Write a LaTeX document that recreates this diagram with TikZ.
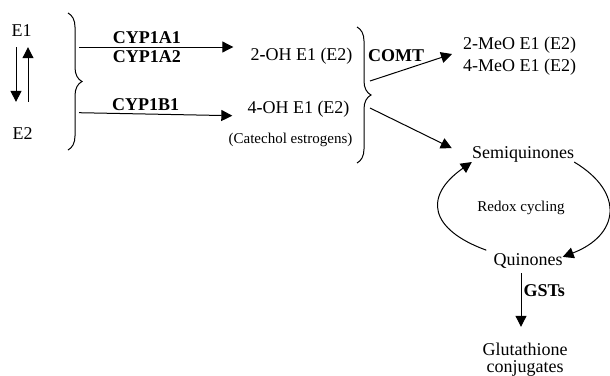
\documentclass[tikz,border=0pt]{standalone}
\usepackage{fontspec}
\setmainfont{Liberation Serif}
\usetikzlibrary{calc, arrows.meta, decorations.pathreplacing}

\tikzset{
	txt/.style = {inner sep = 0, anchor = base, font = \fontsize{18}{22}\selectfont},
	smalltxt/.style = {inner sep = 0, anchor = base, font = \fontsize{15}{18}\selectfont},
	enz/.style = {inner sep = 0, font = \fontsize{18}{22}\selectfont\bfseries},
	arr/.style = {line width = 1pt, -{Triangle[length = 11pt, width = 11pt]}},
	curly/.style = {line width = 1pt, decorate, decoration = {brace, amplitude = 14pt}}
}

\begin{document}
\begin{tikzpicture}[x = 1pt, y = 1pt]
	\useasboundingbox (0,0) rectangle (610,-375);

	% estrogens and products
	\node [txt] (e1) at (21.5,-36) {E1};
	\node [txt] (e2) at (22.5,-139) {E2};
	\node [txt] (oh2) at (301.5,-60) {2\textbf{-}OH E1 (E2)};
	\node [txt] (oh4) at (298.5,-113) {4\textbf{-}OH E1 (E2)};
	\node [smalltxt] (cat) at (290.5,-143) {(Catechol estrogens)};
	\node [txt, anchor = west, align = left] (meo) at (463,-56) {2-MeO E1 (E2)\\4-MeO E1 (E2)};
	\node [txt] (semi) at (523,-158) {Semiquinones};
	\node [smalltxt] (redox) at (521,-211) {Redox cycling};
	\node [txt] (quin) at (528,-265) {Quinones};
	\node [txt] (glut) at (525,-355) {Glutathione};
	\node [txt] (conj) at (525,-372) {conjugates};
	\node [enz, anchor = base west] (comt) at (368,-61) {COMT};

	% braces
	\draw [curly] (68,-13) -- (68,-150);
	\draw [curly] (357,-27) -- (357,-163);

	\coordinate (s1) at (79,-47);
	\coordinate (s2) at (79,-112.7);
	\coordinate (t1) at (370,-81);
	\coordinate (t2) at (370,-108);

	\begin{scope}[arr]
		\draw [shorten <= 11pt, shorten >= 25pt] ($(e1.south) + (-5.5,0)$) -- ($(e2.north) + (-6.5,0)$);
		\draw [shorten <= 25pt, shorten >= 11pt] ($(e2.north) + (5.5,0)$) -- ($(e1.south) + (6.5,0)$);

		\draw (s1) -- ($(s1 -| oh2.west) + (-17,0)$)
			node [enz, pos = 0.44, above = 3pt] {CYP1A1}
			node [enz, pos = 0.44, below = 3pt] {CYP1A2};
		\draw (s2) -- ($(oh4.base west) + (-15,-2.7)$)
			node [enz, pos = 0.435, above = 3pt] {CYP1B1};

		\draw (t1) -- ($(meo.west) + (-11,2)$);
		\draw (t2) -- ($(semi.west) + (-20,5.8)$);

		\draw ($(quin.north west) + (-7,2.7)$) to [out = 160, in = 215, distance = 60pt] (semi.south west);
		\draw (semi.south east) to [out = -31, in = 21, distance = 60pt] ($(quin.north east) + (0,-4)$);

		\draw ($(quin.south) + (-7,-5)$) -- ($(quin.south |- glut.north) + (-7,15.5)$)
			node [enz, pos = 0.32, right = 2pt] {GSTs};
	\end{scope}
\end{tikzpicture}
\end{document}
